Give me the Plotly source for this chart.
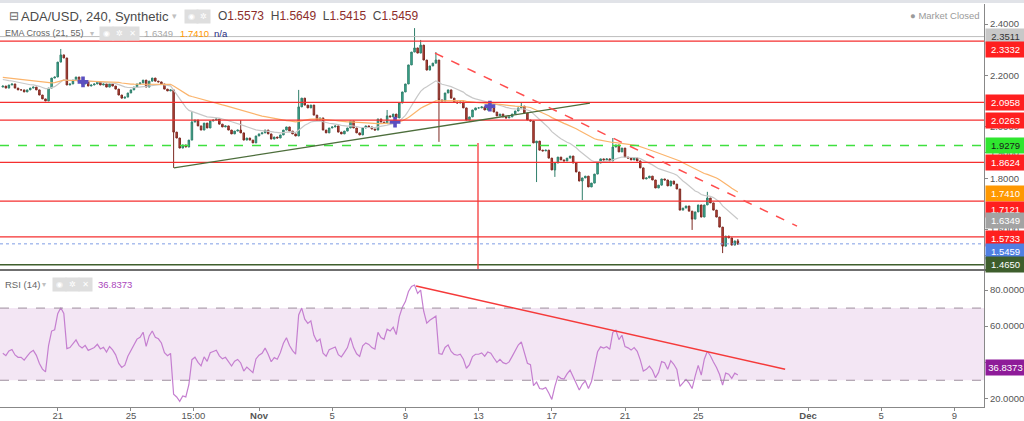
import plotly.graph_objects as go

# ---------------- data ----------------
# 4h candles, bar index 0 = Oct 18 00:00
first_open = 2.155
closes = [
    2.159, 2.151, 2.163, 2.167, 2.151, 2.144, 2.144, 2.136, 2.144, 2.151,
    2.155, 2.144, 2.124, 2.109, 2.101, 2.151, 2.190, 2.194, 2.252, 2.280,
    2.268, 2.163, 2.167, 2.182, 2.194, 2.175, 2.167, 2.175, 2.159, 2.163,
    2.167, 2.175, 2.163, 2.167, 2.155, 2.167, 2.159, 2.147, 2.124, 2.112,
    2.116, 2.132, 2.144, 2.155, 2.167, 2.171, 2.182, 2.155, 2.178, 2.190,
    2.178, 2.175, 2.167, 2.147, 2.140, 2.144, 1.980, 1.957, 1.918, 1.930,
    1.922, 1.949, 2.019, 2.027, 2.004, 1.988, 2.015, 1.996, 2.023, 2.027,
    2.031, 2.011, 2.000, 2.004, 1.988, 1.973, 1.984, 1.988, 1.977, 1.949,
    1.957, 1.949, 1.938, 1.965, 1.973, 1.977, 1.988, 1.973, 1.953, 1.961,
    1.957, 1.969, 1.988, 2.000, 1.984, 1.973, 1.965, 2.078, 2.112, 2.085,
    2.074, 2.085, 2.046, 2.027, 2.035, 1.988, 1.977, 1.996, 2.000, 2.004,
    1.980, 1.973, 1.984, 1.996, 2.023, 1.996, 1.977, 1.969, 1.996, 2.004,
    2.000, 1.992, 1.988, 2.031, 2.019, 2.015, 2.043, 2.039, 2.050, 2.035,
    2.093, 2.136, 2.167, 2.241, 2.291, 2.307, 2.287, 2.318, 2.260, 2.221,
    2.237, 2.248, 2.260, 2.105, 2.101, 2.132, 2.144, 2.112, 2.097, 2.093,
    2.097, 2.074, 2.027, 2.039, 2.066, 2.074, 2.074, 2.078, 2.066, 2.078,
    2.074, 2.058, 2.043, 2.050, 2.039, 2.035, 2.039, 2.050, 2.062, 2.074,
    2.081, 2.054, 2.027, 2.023, 1.938, 1.945, 1.910, 1.907, 1.910, 1.879,
    1.833, 1.860, 1.883, 1.872, 1.868, 1.879, 1.887, 1.860, 1.825, 1.790,
    1.802, 1.809, 1.767, 1.782, 1.817, 1.860, 1.876, 1.872, 1.876, 1.868,
    1.922, 1.930, 1.903, 1.918, 1.883, 1.879, 1.872, 1.879, 1.868, 1.841,
    1.798, 1.802, 1.809, 1.794, 1.763, 1.774, 1.798, 1.794, 1.771, 1.790,
    1.778, 1.759, 1.677, 1.685, 1.693, 1.673, 1.642, 1.670, 1.697, 1.650,
    1.697, 1.724, 1.705, 1.677, 1.650, 1.611, 1.537, 1.576, 1.569, 1.541,
    1.5573, 1.5459,
]
# notable wicks (bar index -> price)
wick_highs = {19: 2.303, 62: 2.058, 78: 2.027, 97: 2.144, 126: 2.066, 135: 2.384,
              137: 2.338, 142: 2.291, 170: 2.097, 200: 1.957, 231: 1.748, 241: 1.5649}
wick_lows = {56: 1.841, 143: 1.942, 175: 1.786, 181: 1.806, 190: 1.716,
             226: 1.600, 236: 1.510, 241: 1.5415}

ema_fast_len, ema_slow_len = 21, 55
ema_fast_seed, ema_slow_seed = 2.187, 2.194
ema_fast_last, ema_slow_last = 1.6349, 1.7410
rsi_len = 14
rsi_gain_seed, rsi_loss_seed = 0.0095, 0.0120
rsi_last = 36.8373

# horizontal levels
red_levels = [2.3332, 2.0958, 2.0263, 1.8624, 1.7121, 1.5733]
gray_level = 2.3511
green_dash_level = 1.9279
last_price = 1.5459
support_level = 1.4650

# drawings (bar index, price)
trend_up = [(56.1, 1.841), (192.5, 2.093)]
trend_down = [(141.7, 2.287), (260.4, 1.615)]
vline_bar, vline_top = 155.8, 1.938
cross_x = [26.3, 128.6, 159.7]
cross_y = [2.175, 2.019, 2.081]
rsi_trend = [(135.5, 82.2), (256.5, 36.1)]

# axis ticks
tick_bars = [18, 42, 62.5, 84, 108, 132, 156, 180, 204, 228, 264, 288, 312]
tick_text = ['21', '25', '15:00', '<b>Nov</b>', '5', '9', '13', '17', '21', '25', '<b>Dec</b>', '5', '9']
price_ticks = [1.5, 1.6, 1.8, 1.9, 2.0, 2.2, 2.4]   # 1.7, 2.1, 2.3 are hidden behind level labels
rsi_ticks = [20, 40, 60, 80]

# ---------------- derived series ----------------
n = len(closes)
xs = list(range(n))
opens = [first_open] + closes[:-1]
highs = [max(o, c) for o, c in zip(opens, closes)]
lows = [min(o, c) for o, c in zip(opens, closes)]
for k, v in wick_highs.items():
    highs[k] = v
for k, v in wick_lows.items():
    lows[k] = v


def ema(values, length, seed):
    a = 2.0 / (length + 1)
    e = seed
    out = []
    for v in values:
        e = e + a * (v - e)
        out.append(e)
    return out


ema_fast = ema(closes, ema_fast_len, ema_fast_seed)
ema_slow = ema(closes, ema_slow_len, ema_slow_seed)

rsi = []
ag, al = rsi_gain_seed, rsi_loss_seed
prev = first_open
for c in closes:
    ch = c - prev
    prev = c
    ag = (ag * (rsi_len - 1) + max(ch, 0)) / rsi_len
    al = (al * (rsi_len - 1) + max(-ch, 0)) / rsi_len
    rsi.append(100 - 100 / (1 + ag / al))

# ---------------- figure ----------------
W, H = 1024, 421
FONT = 'Liberation Sans'
x_end = 984 / W
main_dom = [1 - 269 / H, 1 - 4 / H]
rsi_dom = [1 - 407 / H, 1 - 271 / H]
y_rng = [1.4482, 2.4777]
r_rng = [15.17, 90.56]
x_rng = [-0.92, 321.7]

fig = go.Figure()
fig.add_trace(go.Candlestick(
    x=xs, open=opens, high=highs, low=lows, close=closes,
    increasing=dict(line=dict(color='#2f7e6a', width=1), fillcolor='#3db59c'),
    decreasing=dict(line=dict(color='#7c2a22', width=1), fillcolor='#c8473c'),
    whiskerwidth=0, showlegend=False, hoverinfo='skip', xaxis='x', yaxis='y'))
fig.add_trace(go.Scatter(x=xs, y=ema_fast, mode='lines', line=dict(color='#c8c8c8', width=1.2),
                         hoverinfo='skip', xaxis='x', yaxis='y'))
fig.add_trace(go.Scatter(x=xs, y=ema_slow, mode='lines', line=dict(color='#fbb46c', width=1.2),
                         hoverinfo='skip', xaxis='x', yaxis='y'))
fig.add_trace(go.Scatter(x=cross_x, y=cross_y, mode='markers',
                         marker=dict(symbol='cross', size=9, color='#5a4fc0'),
                         hoverinfo='skip', xaxis='x', yaxis='y'))
fig.add_trace(go.Scatter(x=xs, y=rsi, mode='lines', line=dict(color='#c57fd0', width=1.2),
                         hoverinfo='skip', xaxis='x2', yaxis='y2'))

shapes = []
# RSI band
shapes.append(dict(type='rect', xref='x2 domain', yref='y2', x0=0, x1=1, y0=30, y1=70,
                   fillcolor='#f3e6f4', line=dict(width=0), layer='below'))
for lv in (70, 30):
    shapes.append(dict(type='line', xref='x2 domain', yref='y2', x0=0, x1=1, y0=lv, y1=lv,
                       line=dict(color='#9d8e9d', width=1, dash='dash')))
# horizontal lines
shapes.append(dict(type='line', xref='x domain', yref='y', x0=0, x1=1, y0=gray_level, y1=gray_level,
                   line=dict(color='#bdbdbd', width=1)))
for lv in red_levels:
    shapes.append(dict(type='line', xref='x domain', yref='y', x0=0, x1=1, y0=lv, y1=lv,
                       line=dict(color='#f52f2f', width=1.3)))
shapes.append(dict(type='line', xref='x domain', yref='y', x0=0, x1=1, y0=green_dash_level,
                   y1=green_dash_level, line=dict(color='#3fe03f', width=1.5, dash='dash')))
shapes.append(dict(type='line', xref='x domain', yref='y', x0=0, x1=1, y0=last_price, y1=last_price,
                   line=dict(color='#7f9ee6', width=1, dash='dot')))
shapes.append(dict(type='line', xref='x domain', yref='y', x0=0, x1=1, y0=support_level,
                   y1=support_level, line=dict(color='#3f5f2d', width=1.5)))
# drawings
shapes.append(dict(type='line', xref='x', yref='y', x0=trend_up[0][0], y0=trend_up[0][1],
                   x1=trend_up[1][0], y1=trend_up[1][1], line=dict(color='#4d6e3c', width=1.3)))
shapes.append(dict(type='line', xref='x', yref='y', x0=trend_down[0][0], y0=trend_down[0][1],
                   x1=trend_down[1][0], y1=trend_down[1][1],
                   line=dict(color='#ff4d4d', width=1.5, dash='dash')))
shapes.append(dict(type='line', xref='x', yref='y', x0=vline_bar, x1=vline_bar, y0=vline_top,
                   y1=y_rng[0], line=dict(color='#f53a3a', width=1.3)))
shapes.append(dict(type='line', xref='x2', yref='y2', x0=rsi_trend[0][0], y0=rsi_trend[0][1],
                   x1=rsi_trend[1][0], y1=rsi_trend[1][1], line=dict(color='#f53a3a', width=1.5)))
# frame strips
shapes.append(dict(type='rect', xref='paper', yref='paper', x0=0, x1=1, y0=1 - 3 / H, y1=1,
                   fillcolor='#e1e3e8', line=dict(width=0)))
shapes.append(dict(type='rect', xref='paper', yref='paper', x0=0, x1=1, y0=1 - 271 / H, y1=1 - 269 / H,
                   fillcolor='#6f6f6f', line=dict(width=0)))

ann = []


def px_text(x, y, text, size, color, anchor='left', **kw):
    ann.append(dict(xref='paper', yref='paper', x=x / W, y=1 - y / H, text=text, showarrow=False,
                    xanchor=anchor, yanchor='middle', font=dict(family=FONT, size=size, color=color), **kw))


def icon(x, y, sym):
    ann.append(dict(xref='paper', yref='paper', x=x / W, y=1 - y / H, text=sym, showarrow=False,
                    xanchor='center', yanchor='middle', bgcolor='#dedede', width=11, height=11,
                    font=dict(family='DejaVu Sans', size=8, color='#ffffff')))


# legend rows
px_text(7, 16, '⊟', 12, '#666666')
px_text(19, 16, 'ADA/USD, 240, Synthetic', 13, '#4a4a4a')
px_text(170, 16, '▾', 9, '#c0c0c0')
icon(191, 16, '◉')
icon(203, 16, '✲')
red = '#8d2d2a'
px_text(216, 16, f"O<span style='color:{red}'>1.5573</span>  H<span style='color:{red}'>1.5649</span>"
                 f"  L<span style='color:{red}'>1.5415</span>  C<span style='color:{red}'>1.5459</span>",
        12, '#4a4a4a')
px_text(3, 33, 'EMA Cross (21, 55)', 9, '#666666')
px_text(88, 33, '▾', 8, '#c0c0c0')
icon(106, 33, '◉')
icon(119, 33, '✲')
icon(132, 33, '✕')
px_text(142, 33, f'{ema_fast_last:.4f}', 9.5, '#a8a8a8')
px_text(178, 33, f'{ema_slow_last:.4f}', 9.5, '#ff9800')
px_text(212, 33, 'n/a', 9.5, '#1f2a80')
px_text(908, 15, '● Market Closed', 9.5, '#9a9a9a')
px_text(3, 284, 'RSI (14)', 9.5, '#666666')
px_text(40, 284, '▾', 8, '#c0c0c0')
icon(59, 284, '◉')
icon(72, 284, '✲')
icon(85, 284, '✕')
px_text(96, 284, f'{rsi_last:.4f}', 9.5, '#ab47bc')

# price-axis labels
labels = [
    (gray_level, 0, '#c8c8c8', '#333333'),
    (red_levels[0], -8, '#ff1f1f', '#ffffff'),
    (red_levels[1], 0, '#ff1f1f', '#ffffff'),
    (red_levels[2], 0, '#ff1f1f', '#ffffff'),
    (green_dash_level, 0, '#2fe62f', '#1a1a1a'),
    (red_levels[3], 0, '#ff1f1f', '#ffffff'),
    (ema_slow_last, 0, '#ff9800', '#ffffff'),
    (red_levels[4], -8, '#ff1f1f', '#ffffff'),
    (ema_fast_last, 0, '#a3a3a3', '#ffffff'),
    (red_levels[5], -2, '#ff1f1f', '#ffffff'),
    (last_price, -8, '#4f7fe3', '#ffffff'),
    (support_level, 0, '#3e5e2c', '#ffffff'),
]
for val, shift, bg, fg in labels:
    ann.append(dict(xref='paper', yref='y', x=985 / W, y=val, yshift=shift, xanchor='left',
                    yanchor='middle', text=f'{val:.4f}', showarrow=False, bgcolor=bg, width=37,
                    height=13, align='center', font=dict(family=FONT, size=9.5, color=fg)))
ann.append(dict(xref='paper', yref='y2', x=985 / W, y=rsi_last, xanchor='left', yanchor='middle',
                text=f'{rsi_last:.4f}', showarrow=False, bgcolor='#8e1b99', width=37, height=13,
                align='center', font=dict(family=FONT, size=9.5, color='#ffffff')))

axis_font = dict(family=FONT, size=9.5, color='#555555')
fig.update_layout(
    width=W, height=H, margin=dict(l=0, r=0, t=0, b=0),
    paper_bgcolor='white', plot_bgcolor='white', showlegend=False,
    shapes=shapes, annotations=ann, hovermode=False,
    xaxis=dict(domain=[0, x_end], range=x_rng, anchor='y', showticklabels=False, showgrid=False,
               zeroline=False, rangeslider=dict(visible=False), showline=False, ticks=''),
    xaxis2=dict(domain=[0, x_end], range=x_rng, anchor='y2', matches='x', tickmode='array',
                tickvals=tick_bars, ticktext=tick_text, ticks='outside', ticklen=3, tickcolor='#888888',
                showline=True, linecolor='#888888', linewidth=1, showgrid=False, zeroline=False,
                tickfont=axis_font, automargin=False, ticklabelstandoff=-3),
    yaxis=dict(domain=main_dom, range=y_rng, anchor='x', side='right', tickmode='array',
               tickvals=price_ticks, ticktext=[f'{v:.4f}' for v in price_ticks], ticks='outside',
               ticklen=3, tickcolor='#888888', showline=True, linecolor='#888888', showgrid=False,
               zeroline=False, tickfont=axis_font, automargin=False),
    yaxis2=dict(domain=rsi_dom, range=r_rng, anchor='x2', side='right', tickmode='array',
                tickvals=rsi_ticks, ticktext=[f'{v:.4f}' for v in rsi_ticks], ticks='outside',
                ticklen=3, tickcolor='#888888', showline=True, linecolor='#888888', showgrid=False,
                zeroline=False, tickfont=axis_font, automargin=False),
)
fig.write_html('out.html', config={'displayModeBar': False},
               post_script="document.body.style.margin='0';document.body.style.padding='0';"
                           "document.body.style.overflow='hidden';")
